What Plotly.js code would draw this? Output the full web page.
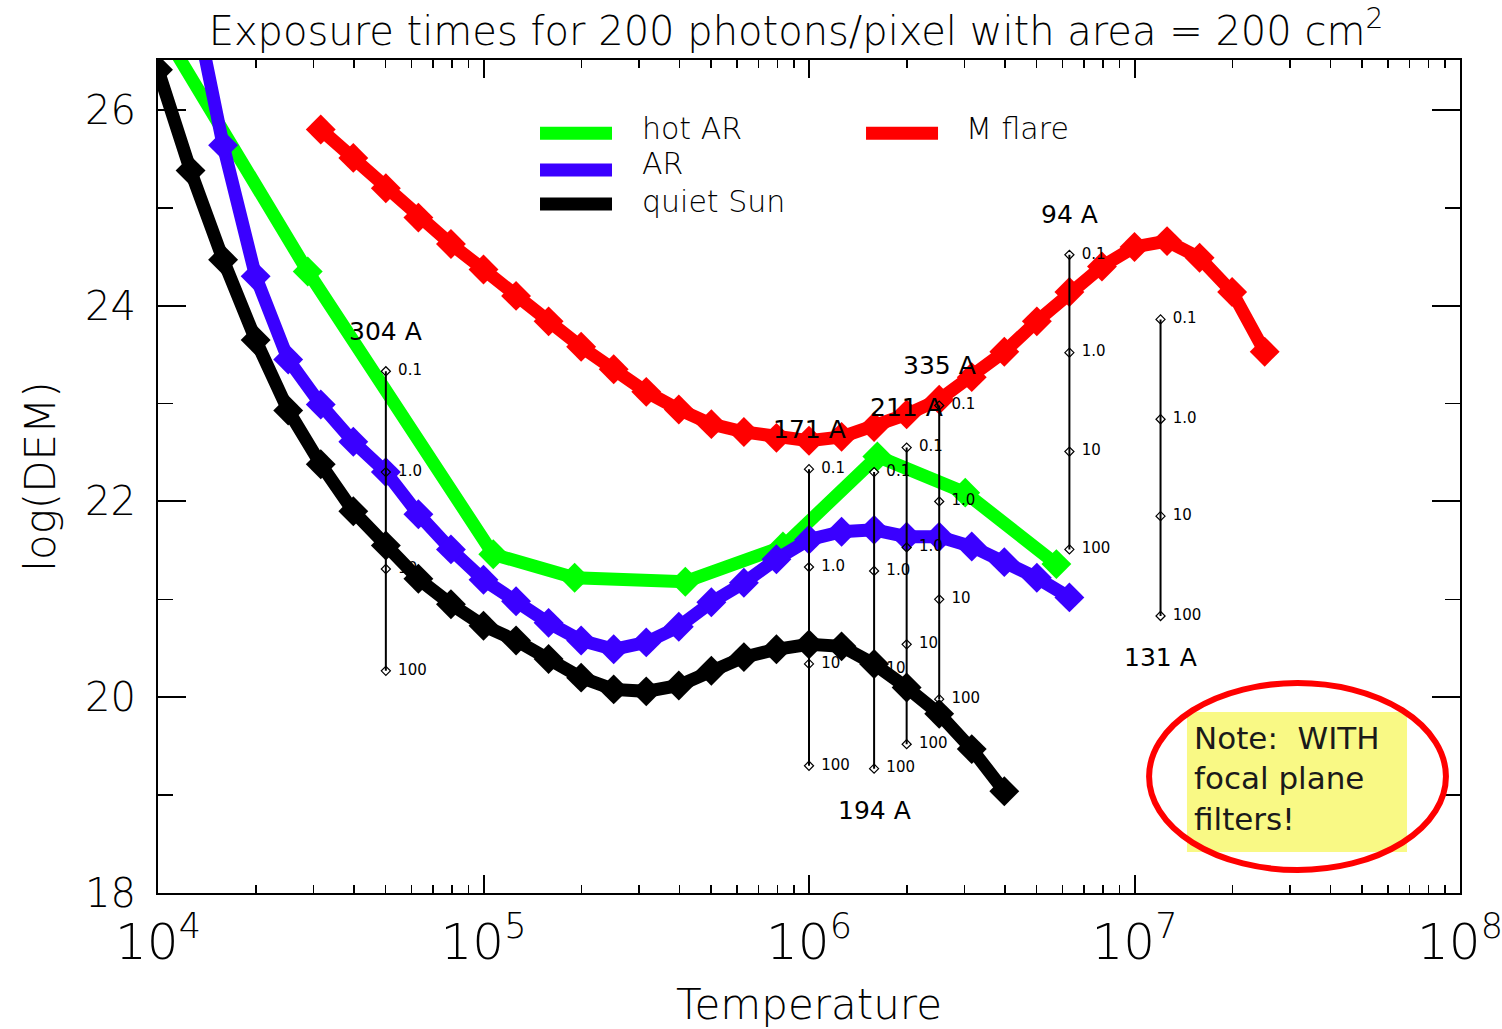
<!DOCTYPE html>
<html><head><meta charset="utf-8">
<script src="https://cdn.plot.ly/plotly-3.0.1.min.js"></script>
<style>html,body{margin:0;padding:0;background:#fff;} #chart{width:1502px;height:1029px;}</style>
</head><body><div id="chart"></div>
<script>
// ---- DEM curves (log10 T, log10 DEM) ----
const quietLogT = [4.0,4.1,4.2,4.3,4.4,4.5,4.6,4.7,4.8,4.9,5.0,5.1,5.2,5.3,5.4,5.5,5.6,5.7,5.8,5.9,6.0,6.1,6.2,6.3,6.4,6.5,6.6];
const quietDEM  = [26.41,25.38,24.47,23.65,22.93,22.38,21.90,21.55,21.21,20.95,20.73,20.58,20.39,20.20,20.08,20.06,20.12,20.27,20.41,20.49,20.54,20.52,20.34,20.10,19.83,19.47,19.04];

const arLogT = [4.0,4.1,4.2,4.3,4.4,4.5,4.6,4.7,4.8,4.9,5.0,5.1,5.2,5.3,5.4,5.5,5.6,5.7,5.8,5.9,6.0,6.1,6.2,6.3,6.4,6.5,6.6,6.7,6.8];
const arDEM  = [28.9,27.2,25.64,24.30,23.45,22.99,22.61,22.30,21.87,21.51,21.20,20.98,20.76,20.58,20.49,20.56,20.72,20.97,21.17,21.41,21.61,21.69,21.71,21.64,21.64,21.54,21.38,21.22,21.02];

const hotLogT = [4.0,4.46,5.03,5.28,5.62,5.92,6.21,6.48,6.76];
const hotDEM  = [26.89,24.35,21.46,21.22,21.18,21.54,22.46,22.09,21.36];

const flareLogT = [4.5,4.6,4.7,4.8,4.9,5.0,5.1,5.2,5.3,5.4,5.5,5.6,5.7,5.8,5.9,6.0,6.1,6.2,6.3,6.4,6.5,6.6,6.7,6.8,6.9,7.0,7.1,7.2,7.3,7.4];
const flareDEM  = [25.80,25.51,25.20,24.90,24.63,24.37,24.10,23.84,23.58,23.35,23.12,22.94,22.79,22.71,22.65,22.62,22.66,22.76,22.89,23.04,23.27,23.53,23.84,24.14,24.40,24.60,24.66,24.49,24.14,23.53];

// ---- exposure-time scales per channel ----
const waveLabels = ['304 A','171 A','194 A','211 A','335 A','94 A','131 A'];
const waveLogT   = [4.70, 6.00, 6.20, 6.30, 6.40, 6.80, 7.08];
const waveSide   = ['top','top','bottom','top','top','top','bottom'];
const expLabels  = ['0.1','1.0','10','100'];
const waveDEM = [
  [23.33,22.30,21.31,20.27],
  [22.33,21.33,20.34,19.30],
  [22.30,21.29,20.29,19.27],
  [22.55,21.53,20.54,19.52],
  [22.98,22.00,21.00,19.98],
  [24.52,23.52,22.51,21.51],
  [23.86,22.84,21.85,20.83]
];

const seriesNames  = ['hot AR','AR','quiet Sun','M flare'];
const seriesColors = ['#00ff00','#3a00ff','#000000','#ff0000'];

const FONT = 'DejaVu Sans';
const toT = a => a.map(v => Math.pow(10, v));

function curve(logT, dem, color, name) {
  return {x: toT(logT), y: dem, name: name, type: 'scatter', mode: 'lines+markers',
    line: {color: color, width: 13}, marker: {symbol: 'diamond', size: 23, color: color, line: {width: 0}},
    showlegend: false, hoverinfo: 'x+y'};
}

const traces = [];
traces.push(curve(flareLogT, flareDEM, seriesColors[3], seriesNames[3]));
traces.push(curve(hotLogT, hotDEM, seriesColors[0], seriesNames[0]));
traces.push(curve(arLogT, arDEM, seriesColors[1], seriesNames[1]));

const lblX = [], lblY = [], lblT = [];
waveLabels.forEach((w, i) => {
  const xs = expLabels.map(() => Math.pow(10, waveLogT[i]));
  traces.push({x: xs, y: waveDEM[i], type: 'scatter', mode: 'lines+markers', name: w,
    line: {color: '#000', width: 2}, marker: {symbol: 'diamond-open', size: 7, color: '#000', line: {width: 1.2, color: '#000'}},
    showlegend: false});
  expLabels.forEach((t, j) => { lblX.push(xs[j]); lblY.push(waveDEM[i][j]); lblT.push(t); });
});
traces.push({x: lblX, y: lblY, text: lblT, type: 'scatter', mode: 'markers+text', textposition: 'middle right',
  marker: {size: 18, color: 'rgba(0,0,0,0)'}, textfont: {family: FONT, size: 15, color: '#000'},
  showlegend: false, hoverinfo: 'skip'});

traces.push(curve(quietLogT, quietDEM, seriesColors[2], seriesNames[2]));

const annotations = waveLabels.map((w, i) => ({
  x: waveLogT[i], y: waveSide[i] === 'top' ? waveDEM[i][0] : waveDEM[i][3],
  xref: 'x', yref: 'y', text: w, showarrow: false,
  yshift: waveSide[i] === 'top' ? 40 : -42,
  font: {family: FONT, size: 25, color: '#000'}
}));

// legend (drawn by hand to match the original layout)
const legPos = [
  {x0: 0.2934, x1: 0.3487, y: 0.912, tx: 0.3702, ty: 0.918},
  {x0: 0.2934, x1: 0.3487, y: 0.868, tx: 0.3702, ty: 0.876},
  {x0: 0.2934, x1: 0.3487, y: 0.827, tx: 0.3702, ty: 0.830},
  {x0: 0.5438, x1: 0.5991, y: 0.912, tx: 0.6190, ty: 0.918}
];
const shapes = [];
seriesNames.forEach((n, i) => {
  const p = legPos[i];
  shapes.push({type: 'line', xref: 'paper', yref: 'paper', x0: p.x0, x1: p.x1, y0: p.y, y1: p.y,
    line: {color: seriesColors[i], width: 13}});
  annotations.push({xref: 'paper', yref: 'paper', x: p.tx, y: p.ty, xanchor: 'left', yanchor: 'middle',
    text: n, showarrow: false, font: {family: FONT, size: 30, color: '#000', weight: 200}});
});

// note box
shapes.push({type: 'rect', xref: 'paper', yref: 'paper', x0: 0.7903, x1: 0.9593, y0: 0.0492, y1: 0.2173,
  fillcolor: '#f9f985', line: {width: 0}, layer: 'above'});
shapes.push({type: 'circle', xref: 'paper', yref: 'paper', x0: 0.7612, x1: 0.9892, y0: 0.0276, y1: 0.2521,
  line: {color: '#ff0000', width: 6}, layer: 'above'});
annotations.push({xref: 'paper', yref: 'paper', x: 0.7942, y: 0.1369, xanchor: 'left', yanchor: 'middle',
  align: 'left', showarrow: false, text: 'Note:  WITH<br>focal plane<br>filters!',
  font: {family: FONT, size: 31, color: '#1a1a1a'}});

const layout = {
  width: 1502, height: 1029,
  margin: {l: 158, r: 42, t: 60, b: 136},
  paper_bgcolor: '#fff', plot_bgcolor: '#fff',
  title: {text: 'Exposure times for 200 photons/pixel with area = 200 cm<sup>2</sup>',
    font: {family: FONT, size: 40, color: '#000', weight: 200},
    x: 0.490, xref: 'paper', xanchor: 'center', y: 0.970, yref: 'container', yanchor: 'middle'},
  xaxis: {type: 'log', range: [4, 8.00001], dtick: 1, exponentformat: 'power',
    showline: true, linecolor: '#000', linewidth: 2, mirror: 'allticks',
    ticks: 'inside', ticklen: 18, tickwidth: 2, tickcolor: '#000',
    minor: {ticks: 'inside', ticklen: 8, tickwidth: 1.5, tickcolor: '#000', dtick: 'D1', showgrid: false},
    showgrid: false, zeroline: false, ticklabeloverflow: 'allow',
    tickfont: {family: FONT, size: 40, color: '#000', weight: 200}, ticklabelstandoff: 6,
    title: {text: 'Temperature', font: {family: FONT, size: 42, color: '#000', weight: 200}, standoff: 28}},
  yaxis: {range: [18, 26.51], tick0: 18, dtick: 2,
    showline: true, linecolor: '#000', linewidth: 2, mirror: 'allticks',
    ticks: 'inside', ticklen: 28, tickwidth: 2, tickcolor: '#000',
    minor: {ticks: 'inside', ticklen: 15, tickwidth: 1.5, tickcolor: '#000', dtick: 1, showgrid: false},
    showgrid: false, zeroline: false,
    tickfont: {family: FONT, size: 40, color: '#000', weight: 200}, ticklabelstandoff: 12,
    title: {text: 'log(DEM)', font: {family: FONT, size: 42, color: '#000', weight: 200}, standoff: 16}},
  annotations: annotations,
  shapes: shapes
};

Plotly.newPlot('chart', traces, layout, {displayModeBar: false, staticPlot: true});
</script>
</body></html>
